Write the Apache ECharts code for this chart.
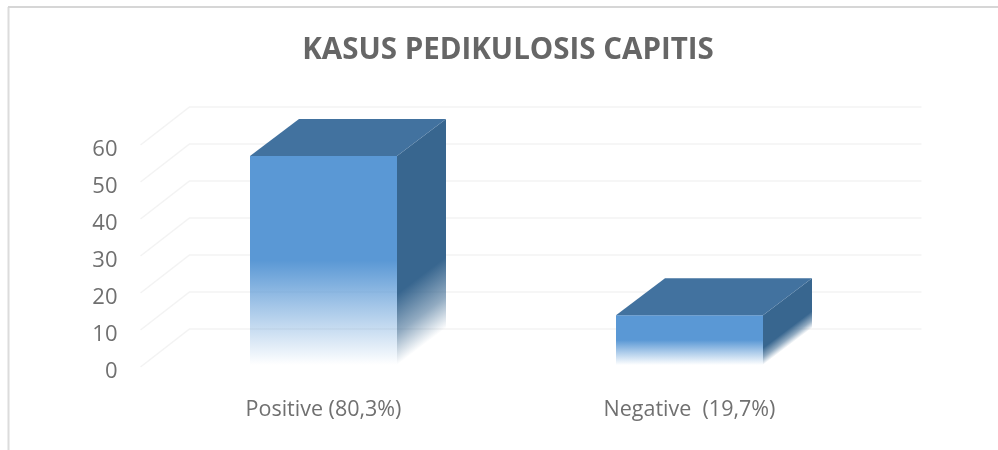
<!DOCTYPE html>
<html>
<head>
<meta charset="utf-8">
<style>
html,body{margin:0;padding:0;background:#fff}
#c{width:998px;height:450px;filter:blur(0.5px)}
</style>
<script src="https://cdn.jsdelivr.net/npm/echarts@6/dist/echarts.min.js"></script>
</head>
<body>
<div id="c"></div>
<script>
var titleText = 'KASUS PEDIKULOSIS CAPITIS';
var categories = ['Positive (80,3%)', 'Negative  (19,7%)'];
var values = [57, 14];
var ticks = [0, 10, 20, 30, 40, 50, 60];

var DX = 49, DY = 37, BAR_W = 147;
var FONT = '"Open Sans", Lato, sans-serif';
var chart = echarts.init(document.getElementById('c'), null, {renderer: 'canvas'});

function fade(c, a, b) {
  return [
    {offset: 0, color: c},
    {offset: a, color: c},
    {offset: b, color: echarts.color.modifyAlpha(c, 0.55)},
    {offset: 1, color: echarts.color.modifyAlpha(c, 0)}
  ];
}

function renderWall(params, api) {
  var p = api.coord([0, api.value(0)]);
  var right = params.coordSys.x + params.coordSys.width + DX;
  var x0 = params.coordSys.x;
  return {
    type: 'polyline',
    shape: {points: [[x0, p[1]], [x0 + DX, p[1] - DY - 1], [right, p[1] - DY - 1]]},
    style: {fill: null, stroke: '#f3f3f3', lineWidth: 1.5},
    silent: true
  };
}

function renderBar(params, api) {
  var cat = api.value(0), val = api.value(1);
  var top = api.coord([cat, val]);
  var base = api.coord([cat, 0]);
  var x0 = top[0] - BAR_W / 2, x1 = top[0] + BAR_W / 2;
  var y0 = top[1], y1 = base[1] - 2, h = y1 - y0;
  var len = Math.sqrt(DX * DX + DY * DY);
  var nx = DY / len, ny = DX / len, proj = h * ny;
  return {
    type: 'group',
    children: [
      {
        type: 'polygon',
        shape: {points: [[x1, y0], [x1 + DX, y0 - DY], [x1 + DX, y1 - DY], [x1, y1]]},
        style: {fill: new echarts.graphic.LinearGradient(x1, y0, x1 + nx * proj, y0 + ny * proj, fade('#38668f', 0.66, 0.85), true)}
      },
      {
        type: 'rect',
        shape: {x: x0, y: y0, width: BAR_W, height: h},
        style: {fill: new echarts.graphic.LinearGradient(0, 0, 0, 1, fade('#5a98d5', 0.5, 0.72))}
      },
      {
        type: 'polygon',
        shape: {points: [[x0, y0], [x0 + DX, y0 - DY], [x1 + DX, y0 - DY], [x1, y0]]},
        style: {fill: '#42729f'}
      }
    ]
  };
}

chart.setOption({
  animation: false,
  backgroundColor: '#fff',
  title: {
    text: titleText,
    left: 503, top: 31, textAlign: 'center',
    textStyle: {fontFamily: FONT, fontSize: 29.5, fontWeight: 'bold', color: '#666666'}
  },
  grid: {left: 140.5, width: 732, top: 145, height: 222},
  xAxis: {
    type: 'category',
    data: categories,
    axisLine: {show: false},
    axisTick: {show: false},
    splitLine: {show: false},
    axisLabel: {margin: 32, fontFamily: FONT, fontSize: 21.5, color: '#707070'}
  },
  yAxis: {
    type: 'value',
    min: 0, max: 60, interval: 10,
    axisLine: {show: false},
    axisTick: {show: false},
    splitLine: {show: false},
    axisLabel: {margin: 23, fontFamily: FONT, fontSize: 22, color: '#707070', verticalAlign: 'top', padding: [-6, 0, 0, 0]}
  },
  graphic: [
    {type: 'line', shape: {x1: 8.5, y1: 7, x2: 8.5, y2: 450}, style: {stroke: '#dcdcdc', lineWidth: 2}, silent: true},
    {type: 'line', shape: {x1: 8, y1: 7, x2: 998, y2: 7}, style: {stroke: '#d6d6d6', lineWidth: 2}, silent: true}
  ],
  series: [
    {
      type: 'custom',
      coordinateSystem: 'cartesian2d',
      renderItem: renderWall,
      data: ticks.map(function (t) { return [t]; }),
      encode: {y: 0},
      silent: true,
      z: 1
    },
    {
      type: 'custom',
      coordinateSystem: 'cartesian2d',
      renderItem: renderBar,
      data: values.map(function (v, i) { return [i, v]; }),
      encode: {x: 0, y: 1},
      z: 2
    }
  ]
});
</script>
</body>
</html>
